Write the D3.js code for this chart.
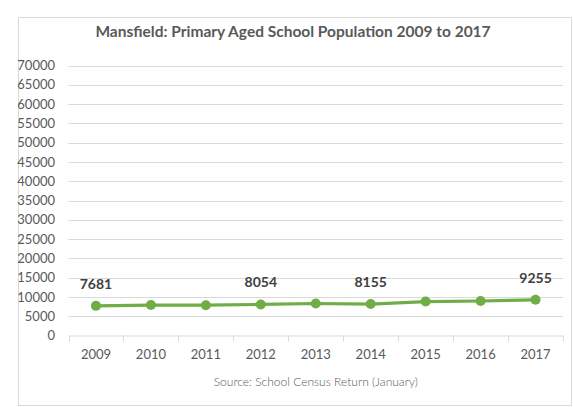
<!DOCTYPE html>
<html><head><meta charset="utf-8">
<script src="https://cdn.jsdelivr.net/npm/d3@7/dist/d3.min.js"></script>
<style>body{margin:0;background:#fff;}svg{display:block;}</style>
</head><body><svg id="c" width="573" height="407"></svg>
<script>
const years = ["2009","2010","2011","2012","2013","2014","2015","2016","2017"];
const population = [7681, 7900, 7850, 8054, 8300, 8155, 8800, 8950, 9255];
const labelledYears = ["2009","2012","2014","2017"];
const yTicks = [0,5000,10000,15000,20000,25000,30000,35000,40000,45000,50000,55000,60000,65000,70000];
const title = "Mansfield: Primary Aged School Population 2009 to 2017";
const source = "Source: School Census Return (January)";

const svg = d3.select("#c");
const font = "Lato, 'Liberation Sans', sans-serif";
const grey = "#595959";
svg.append("rect").attr("x",18.5).attr("y",17.5).attr("width",553).attr("height",388)
  .attr("fill","#fff").attr("stroke","#d9d9d9").attr("stroke-width",1);

const m = {left:68.5, right:563, top:65.5, bottom:335.5};
const x = d3.scaleBand().domain(years).range([m.left, m.right]);
const y = d3.scaleLinear().domain([0,70000]).range([m.bottom, m.top]);

svg.append("text").attr("x",293).attr("y",37).attr("text-anchor","middle")
  .attr("font-family",font).attr("font-weight","bold").attr("font-size",15.5).attr("fill",grey).text(title);

svg.append("g").selectAll("line").data(yTicks.filter(d=>d>0)).join("line")
  .attr("x1",m.left).attr("x2",m.right).attr("y1",d=>Math.round(y(d))+0.5).attr("y2",d=>Math.round(y(d))+0.5)
  .attr("stroke","#d9d9d9").attr("stroke-width",1);

const yAxis = d3.axisLeft(y).tickValues(yTicks).tickFormat(d3.format("d")).tickSize(0).tickPadding(0);
const gy = svg.append("g").attr("transform",`translate(55,0)`).call(yAxis);
gy.select(".domain").remove();
gy.selectAll("text").attr("font-family",font).attr("font-size",13).attr("fill",grey);

const xAxis = d3.axisBottom(x).tickSize(0).tickPadding(14);
const gx = svg.append("g").attr("transform",`translate(0,${m.bottom})`).call(xAxis);
gx.select(".domain").attr("stroke","#d9d9d9");
gx.selectAll("text").attr("font-family",font).attr("font-size",13).attr("fill",grey);
const bounds = years.map(d=>x(d)).concat([m.right]);
svg.append("g").selectAll("line").data(bounds).join("line")
  .attr("x1",d=>Math.round(d)+0.5).attr("x2",d=>Math.round(d)+0.5)
  .attr("y1",m.bottom).attr("y2",m.bottom+6).attr("stroke","#d9d9d9");

const cx = d=>x(d)+x.bandwidth()/2;
const data = years.map((yr,i)=>({yr, v:population[i]}));
svg.append("path").datum(data)
  .attr("d", d3.line().x(d=>cx(d.yr)).y(d=>y(d.v)))
  .attr("fill","none").attr("stroke","#70ad47").attr("stroke-width",3.2);
svg.append("g").selectAll("circle").data(data).join("circle")
  .attr("cx",d=>cx(d.yr)).attr("cy",d=>y(d.v)).attr("r",5).attr("fill","#70ad47");

svg.append("g").selectAll("text").data(data.filter(d=>labelledYears.includes(d.yr))).join("text")
  .attr("x",d=>cx(d.yr)).attr("y",d=>y(d.v)-17).attr("text-anchor","middle")
  .attr("font-family",font).attr("font-weight","bold").attr("font-size",14).attr("fill","#404040")
  .text(d=>d.v);

svg.append("text").attr("x",(m.left+m.right)/2).attr("y",386).attr("text-anchor","middle")
  .attr("font-family",font).attr("font-weight",300).attr("font-size",12).attr("fill",grey).text(source);
</script></body></html>
